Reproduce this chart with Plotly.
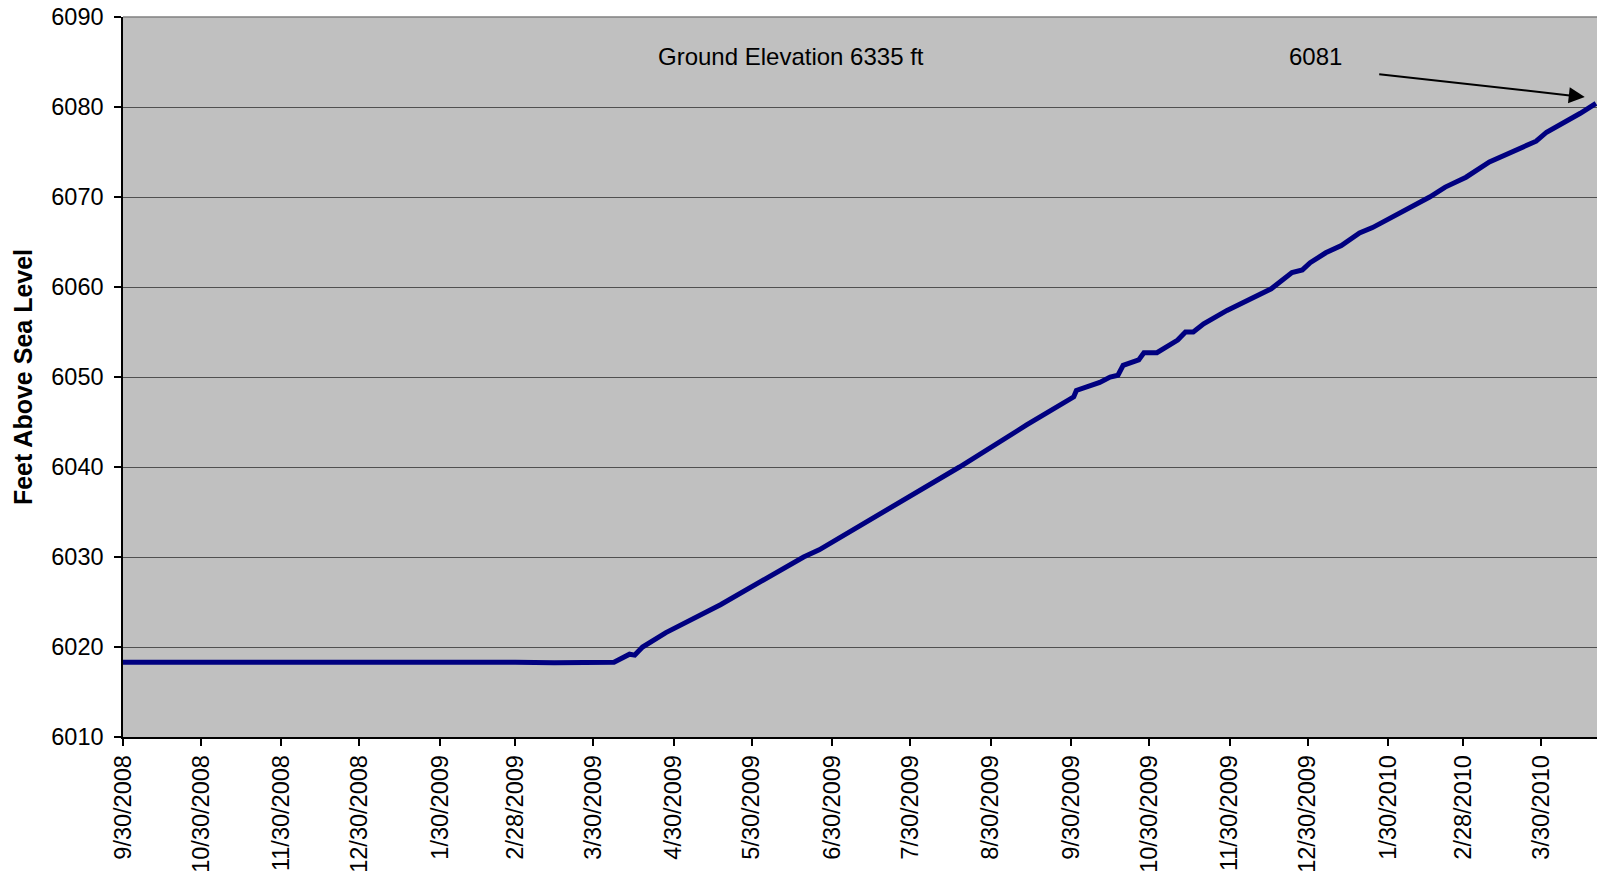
import plotly.graph_objects as go

# Water level readings
dates = [
    "2008-09-30", "2008-10-15", "2008-10-30", "2008-11-15", "2008-11-30",
    "2008-12-15", "2008-12-30", "2009-01-15", "2009-01-30", "2009-02-14",
    "2009-02-28", "2009-03-15", "2009-03-30", "2009-04-07", "2009-04-13",
    "2009-04-15", "2009-04-18", "2009-04-27", "2009-05-18", "2009-06-05",
    "2009-06-19", "2009-06-25", "2009-07-21", "2009-08-18", "2009-09-13",
    "2009-10-01", "2009-10-02", "2009-10-11", "2009-10-15", "2009-10-18",
    "2009-10-20", "2009-10-26", "2009-10-28", "2009-11-02", "2009-11-10",
    "2009-11-13", "2009-11-16", "2009-11-20", "2009-11-29", "2009-12-09",
    "2009-12-16", "2009-12-24", "2009-12-28", "2009-12-31", "2010-01-06",
    "2010-01-12", "2010-01-19", "2010-01-24", "2010-02-01", "2010-02-10",
    "2010-02-15", "2010-02-21", "2010-03-01", "2010-03-10", "2010-03-19",
    "2010-03-28", "2010-04-01", "2010-04-06", "2010-04-14", "2010-04-20",
]
levels = [
    6018.3, 6018.3, 6018.3, 6018.4, 6018.4,
    6018.3, 6018.3, 6018.3, 6018.3, 6018.3,
    6018.3, 6018.25, 6018.25, 6018.3, 6019.2,
    6019.1, 6020.0, 6021.6, 6024.7, 6027.7,
    6030.0, 6030.8, 6035.2, 6040.0, 6044.7,
    6047.8, 6048.5, 6049.4, 6050.0, 6050.2,
    6051.3, 6051.9, 6052.7, 6052.7, 6054.1,
    6055.0, 6055.0, 6055.9, 6057.4, 6058.9,
    6059.8, 6061.6, 6061.9, 6062.7, 6063.8,
    6064.6, 6066.0, 6066.6, 6067.8, 6069.1,
    6070.0, 6071.1, 6072.2, 6073.9, 6075.0,
    6076.2, 6077.2, 6078.0, 6079.3, 6080.4,
]

tick_dates = [
    "2008-09-30", "2008-10-30", "2008-11-30", "2008-12-30", "2009-01-30",
    "2009-02-28", "2009-03-30", "2009-04-30", "2009-05-30", "2009-06-30",
    "2009-07-30", "2009-08-30", "2009-09-30", "2009-10-30", "2009-11-30",
    "2009-12-30", "2010-01-30", "2010-02-28", "2010-03-30",
]
tick_labels = [
    "9/30/2008", "10/30/2008", "11/30/2008", "12/30/2008", "1/30/2009",
    "2/28/2009", "3/30/2009", "4/30/2009", "5/30/2009", "6/30/2009",
    "7/30/2009", "8/30/2009", "9/30/2009", "10/30/2009", "11/30/2009",
    "12/30/2009", "1/30/2010", "2/28/2010", "3/30/2010",
]
y_ticks = [6010, 6020, 6030, 6040, 6050, 6060, 6070, 6080, 6090]

FONT = "Liberation Sans, Arial, sans-serif"

fig = go.Figure()
fig.add_trace(go.Scatter(
    x=dates, y=levels, mode="lines",
    line=dict(color="#000080", width=5),
    showlegend=False, hoverinfo="x+y",
))

fig.update_layout(
    width=1597, height=882,
    margin=dict(l=123, r=0, t=17, b=145),
    paper_bgcolor="white",
    plot_bgcolor="#C0C0C0",
    font=dict(family=FONT, size=23, color="black"),
    xaxis=dict(
        type="date",
        range=["2008-09-30", "2010-04-20 10:00"],
        tickmode="array", tickvals=tick_dates, ticktext=tick_labels,
        tickangle=-90,
        ticks="outside", ticklen=7, tickwidth=1.5, tickcolor="black",
        showline=True, linecolor="black", linewidth=1.5,
        showgrid=False, zeroline=False,
        ticklabeloverflow="allow", automargin=False,
        tickfont=dict(family=FONT, size=23.5, color="black"),
    ),
    yaxis=dict(
        range=[6010, 6090],
        tickmode="array", tickvals=y_ticks,
        ticks="outside", ticklen=7, tickwidth=1.5, tickcolor="black",
        showline=True, linecolor="black", linewidth=1.5,
        showgrid=True, gridcolor="#505050", gridwidth=1,
        zeroline=False,
        ticklabeloverflow="allow", automargin=False,
        ticklabelstandoff=6,
        tickfont=dict(family=FONT, size=23.5, color="black"),
        title=dict(text="<b>Feet Above Sea Level</b>",
                   font=dict(family=FONT, size=25, color="black"),
                   standoff=12),
    ),
    shapes=[
        dict(type="line", xref="paper", yref="paper", x0=0, x1=1, y0=1, y1=1,
             line=dict(color="#808080", width=1.5)),
    ],
    annotations=[
        dict(x="2009-06-14", y=6085.6, xref="x", yref="y",
             text="Ground Elevation 6335 ft", showarrow=False,
             font=dict(family=FONT, size=24, color="black")),
        dict(x="2010-01-02", y=6085.6, xref="x", yref="y",
             text="6081", showarrow=False,
             font=dict(family=FONT, size=24, color="black")),
        dict(x="2010-04-15 17:00", y=6081.1, xref="x", yref="y",
             ax="2010-01-26", ay=6083.67, axref="x", ayref="y",
             text="", showarrow=True, arrowhead=2, arrowsize=1.6,
             arrowwidth=2, arrowcolor="black"),
    ],
)

fig.write_html(
    "out.html",
    config={"displayModeBar": False},
    post_script="document.body.style.margin='0';document.body.style.overflow='hidden';",
)
